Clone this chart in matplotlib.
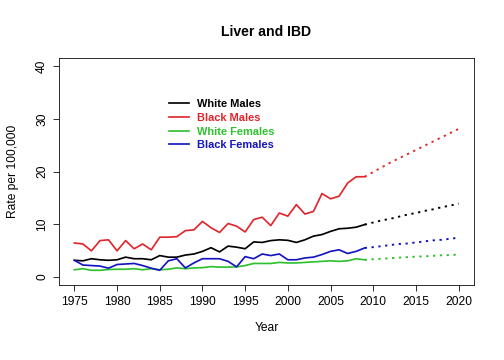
import matplotlib
matplotlib.use("Agg")
import matplotlib.pyplot as plt

plt.rcParams['font.family'] = ['Liberation Sans', 'DejaVu Sans']

years = list(range(1975, 2010))
proj_years = list(range(2009, 2021))

# observed rates per 100,000
white_males = [3.1, 3.0, 3.4, 3.2, 3.1, 3.2, 3.7, 3.4, 3.4, 3.2, 4.0, 3.7, 3.7, 4.1, 4.3,
               4.8, 5.5, 4.7, 5.8, 5.6, 5.3, 6.6, 6.5, 6.85, 7.0, 6.9, 6.5, 7.0, 7.7, 8.0,
               8.6, 9.1, 9.2, 9.4, 9.9]
black_males = [6.4, 6.2, 4.9, 6.85, 7.0, 4.9, 6.85, 5.3, 6.2, 5.1, 7.5, 7.5, 7.6, 8.75, 8.9,
               10.5, 9.3, 8.4, 10.1, 9.6, 8.5, 10.85, 11.3, 9.7, 12.1, 11.5, 13.7, 11.9, 12.4, 15.8,
               14.8, 15.3, 17.8, 19.0, 19.0]
white_females = [1.3, 1.5, 1.2, 1.2, 1.35, 1.4, 1.4, 1.5, 1.3, 1.5, 1.3, 1.4, 1.65, 1.5, 1.65,
                 1.7, 1.9, 1.8, 1.8, 1.85, 2.1, 2.5, 2.5, 2.5, 2.7, 2.6, 2.6, 2.7, 2.8, 2.9,
                 3.0, 2.9, 3.0, 3.4, 3.2]
black_females = [3.1, 2.2, 2.1, 2.0, 1.6, 2.3, 2.4, 2.5, 2.1, 1.6, 1.2, 3.0, 3.4, 1.65, 2.6,
                 3.4, 3.4, 3.4, 2.9, 1.85, 3.8, 3.4, 4.3, 4.0, 4.3, 3.2, 3.2, 3.55, 3.7, 4.2,
                 4.8, 5.1, 4.4, 4.8, 5.45]

# projections 2009-2020
wm_proj = [9.9, 10.3, 10.7, 11.0, 11.4, 11.8, 12.1, 12.5, 12.8, 13.2, 13.5, 13.9]
bm_proj = [19.0, 19.9, 20.8, 21.7, 22.5, 23.3, 24.1, 24.9, 25.7, 26.5, 27.3, 28.1]
wf_proj = [3.2, 3.3, 3.4, 3.5, 3.6, 3.7, 3.8, 3.85, 3.95, 4.05, 4.1, 4.2]
bf_proj = [5.45, 5.6, 5.8, 6.0, 6.2, 6.3, 6.5, 6.7, 6.9, 7.0, 7.2, 7.4]

labels = ["White Males", "Black Males", "White Females", "Black Females"]
colors = ["black", "#E0262C", "#2EC02E", "#1414C0"]

fig = plt.figure(figsize=(7, 5), dpi=72)
ax = fig.add_axes([59/504, 75/360, 415/504, 227/360])

series = [(white_males, wm_proj), (black_males, bm_proj),
          (white_females, wf_proj), (black_females, bf_proj)]
for (obs, proj), lab, c in zip(series, labels, colors):
    ax.plot(years, obs, color=c, lw=1.7, label=lab)
    ax.plot(proj_years, proj, color=c, lw=1.9, linestyle=(0, (1.2, 2.4)))

ax.set_xlim(1973.2, 2021.8)
ax.set_ylim(-1.6, 41.6)
ax.set_xticks(range(1975, 2021, 5))
ax.set_yticks([0, 10, 20, 30, 40])
ax.tick_params(direction='out', length=6, width=0.8, labelsize=12, pad=5)
for lbl in ax.get_yticklabels():
    lbl.set_rotation(90)
    lbl.set_va('center')
for s in ax.spines.values():
    s.set_linewidth(0.8)

ax.set_xlabel("Year", fontsize=12, labelpad=14)
ax.set_ylabel("Rate per 100,000", fontsize=12, labelpad=17)
ax.set_title("Liver and IBD", fontsize=14, fontweight='bold', pad=22)

leg = ax.legend(loc='upper left', bbox_to_anchor=(0.265, 0.818), frameon=False,
                borderpad=0, borderaxespad=0, handlelength=1.8, handletextpad=0.75,
                labelspacing=0.33, labelcolor=colors,
                prop={'size': 11, 'weight': 'bold'})

fig.savefig("out.png", dpi=72)
